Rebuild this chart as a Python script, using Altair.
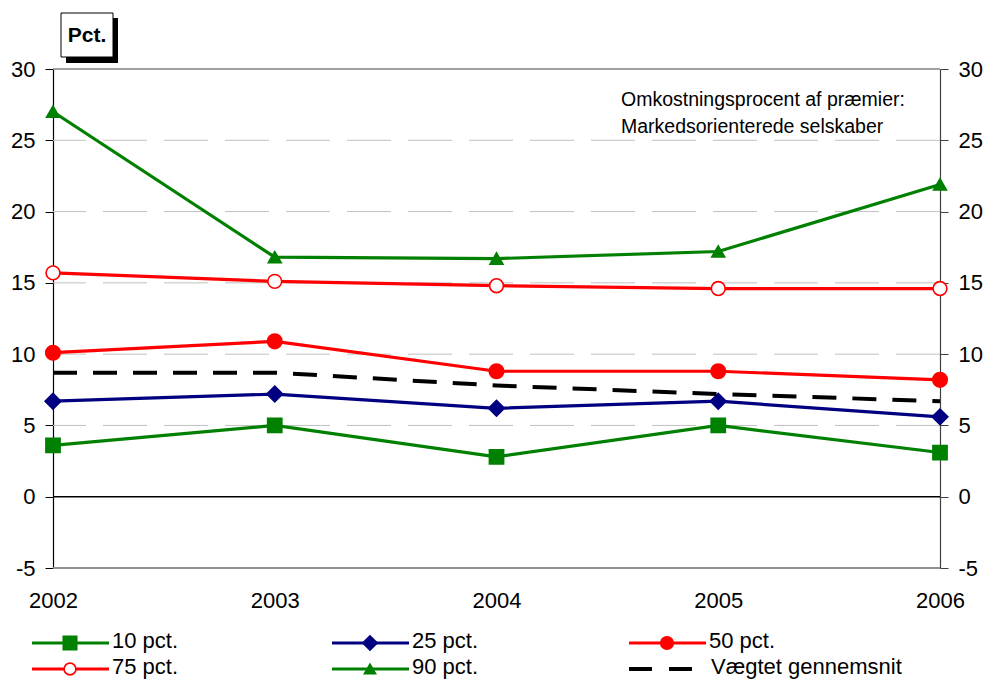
import altair as alt
import pandas as pd

# ---- data -------------------------------------------------------------
years = [2002, 2003, 2004, 2005, 2006]
p10 = [3.6, 5.0, 2.8, 5.0, 3.1]
p25 = [6.7, 7.2, 6.2, 6.7, 5.6]
p50 = [10.1, 10.9, 8.8, 8.8, 8.2]
p75 = [15.7, 15.1, 14.8, 14.6, 14.6]
p90 = [27.0, 16.8, 16.7, 17.2, 21.9]
avg = [8.7, 8.7, 7.8, 7.2, 6.7]

series_names = ["10 pct.", "25 pct.", "50 pct.", "75 pct.", "90 pct.", "Vægtet gennemsnit"]
series_values = [p10, p25, p50, p75, p90, avg]

y_ticks = [-5, 0, 5, 10, 15, 20, 25, 30]
grid_levels = [5, 10, 15, 20, 25]
note_lines = ["Omkostningsprocent af præmier:", "Markedsorienterede selskaber"]
unit_label = "Pct."

# ---- styling ----------------------------------------------------------
FONT = "Liberation Sans"
W, H = 887, 499
GREEN, NAVY, RED = "#008000", "#000080", "#FF0000"

styles = {
    "10 pct.": dict(color=GREEN, shape="square", size=190, fill=GREEN, lsize=170),
    "25 pct.": dict(color=NAVY, shape="diamond", size=230, fill=NAVY, lsize=190),
    "50 pct.": dict(color=RED, shape="circle", size=200, fill=RED, lsize=150),
    "75 pct.": dict(color=RED, shape="circle", size=190, fill="white", lsize=140),
    "90 pct.": dict(color=GREEN, shape="triangle-up", size=150, fill=GREEN, lsize=110),
    "Vægtet gennemsnit": dict(color="black", dash=[24, 16]),
}

rows = [
    {"year": yr, "value": v, "series": name}
    for name, vals in zip(series_names, series_values)
    for yr, v in zip(years, vals)
]
df = pd.DataFrame(rows)

y_scale = alt.Scale(domain=[-5, 30], nice=False, zero=False)
x_scale = alt.Scale(domain=[2002, 2006], nice=False, zero=False)

x_axis = alt.Axis(
    values=years, format="d", ticks=False, domain=False, grid=False,
    labelFont=FONT, labelFontSize=22, labelColor="black",
    labelPadding=22, labelFlush=False, title=None,
)


def y_axis(orient, color):
    return alt.Axis(
        orient=orient, values=y_ticks, grid=False, title=None,
        labelExpr="toString(datum.value)",
        domainColor=color, domainWidth=1.2, tickColor=color, tickSize=8,
        labelFont=FONT, labelFontSize=22, labelColor="black",
        labelPadding=10, labelFlush=False,
    )


# dashed horizontal gridlines
grid = alt.Chart(pd.DataFrame({"level": grid_levels})).mark_rule(
    color="#c0c0c0", strokeWidth=1, strokeDash=[44, 17]
).encode(y=alt.Y("level:Q", scale=y_scale, axis=y_axis("left", "black")))

# top/bottom frame and zero line
frame = alt.Chart(
    pd.DataFrame({"level": [30, -5, 0], "col": ["#808080", "#909090", "black"],
                  "w": [1.5, 2.0, 1.5]})
).mark_rule().encode(
    y=alt.Y("level:Q", scale=y_scale, axis=y_axis("right", "#404040")),
    color=alt.Color("col:N", scale=None),
    strokeWidth=alt.StrokeWidth("w:Q", scale=None),
)

layers = [grid, frame]

for name in series_names:
    st = styles[name]
    sub = alt.Chart(df[df["series"] == name])
    line_kw = dict(color=st["color"], strokeWidth=3.2)
    if "dash" in st:
        line_kw.update(strokeDash=st["dash"], strokeWidth=4)
    layers.append(
        sub.mark_line(**line_kw).encode(
            x=alt.X("year:Q", scale=x_scale, axis=x_axis),
            y=alt.Y("value:Q", scale=y_scale, axis=None),
        )
    )
    if "shape" in st:
        layers.append(
            sub.mark_point(
                shape=st["shape"], size=st["size"], filled=True,
                fill=st["fill"], stroke=st["color"],
                strokeWidth=1.6 if st["fill"] == "white" else 2, opacity=1,
            ).encode(
                x=alt.X("year:Q", scale=x_scale, axis=x_axis),
                y=alt.Y("value:Q", scale=y_scale, axis=None),
            )
        )

# ---- legend (two rows, three columns, below the axis) -----------------
one = pd.DataFrame({"k": [0]})
legend_cols = [-21, 279, 576]
legend_rows = [574, 600]
for i, name in enumerate(series_names):
    st = styles[name]
    lx = legend_cols[i % 3]
    ly = legend_rows[i // 3]
    if "dash" in st:
        layers.append(
            alt.Chart(one).mark_rule(color="black", strokeWidth=4, strokeDash=[23, 17]).encode(
                x=alt.value(lx + 0), x2=alt.value(lx + 65), y=alt.value(ly)
            )
        )
        tx = lx + 82
    else:
        layers.append(
            alt.Chart(one).mark_rule(color=st["color"], strokeWidth=3.2).encode(
                x=alt.value(lx), x2=alt.value(lx + 77), y=alt.value(ly)
            )
        )
        layers.append(
            alt.Chart(one).mark_point(
                shape=st["shape"], size=st["lsize"], filled=True,
                fill=st["fill"], stroke=st["color"],
                strokeWidth=1.6 if st["fill"] == "white" else 2, opacity=1,
            ).encode(x=alt.value(lx + 38), y=alt.value(ly))
        )
        tx = lx + 80
    layers.append(
        alt.Chart(one).mark_text(
            text=name, font=FONT, fontSize=22, align="left", baseline="middle", color="black"
        ).encode(x=alt.value(tx), y=alt.value(ly - 2))
    )

# ---- unit box with drop shadow ----------------------------------------
layers.append(
    alt.Chart(one).mark_rect(color="black").encode(
        x=alt.value(13), x2=alt.value(65), y=alt.value(-51), y2=alt.value(-6)
    )
)
layers.append(
    alt.Chart(one).mark_rect(fill="white", stroke="black", strokeWidth=1).encode(
        x=alt.value(8), x2=alt.value(60), y=alt.value(-56), y2=alt.value(-12)
    )
)
layers.append(
    alt.Chart(one).mark_text(
        text=unit_label, font=FONT, fontSize=21, fontWeight="bold",
        align="center", baseline="middle", color="black",
    ).encode(x=alt.value(34), y=alt.value(-33))
)

# ---- note in the upper right ------------------------------------------
layers.append(
    alt.Chart(one).mark_text(
        text=note_lines, font=FONT, fontSize=19.5, align="left",
        baseline="alphabetic", lineHeight=27, color="black",
    ).encode(x=alt.value(568), y=alt.value(37))
)

chart = (
    alt.layer(*layers)
    .resolve_axis(y="independent")
    .properties(
        width=W, height=H,
        padding={"left": 53, "top": 69, "right": 47, "bottom": 112},
        autosize=alt.AutoSizeParams(type="none"),
        background="white",
    )
    .configure_view(stroke=None)
)

chart.save("out.html", embed_options={"renderer": "svg", "actions": False})
